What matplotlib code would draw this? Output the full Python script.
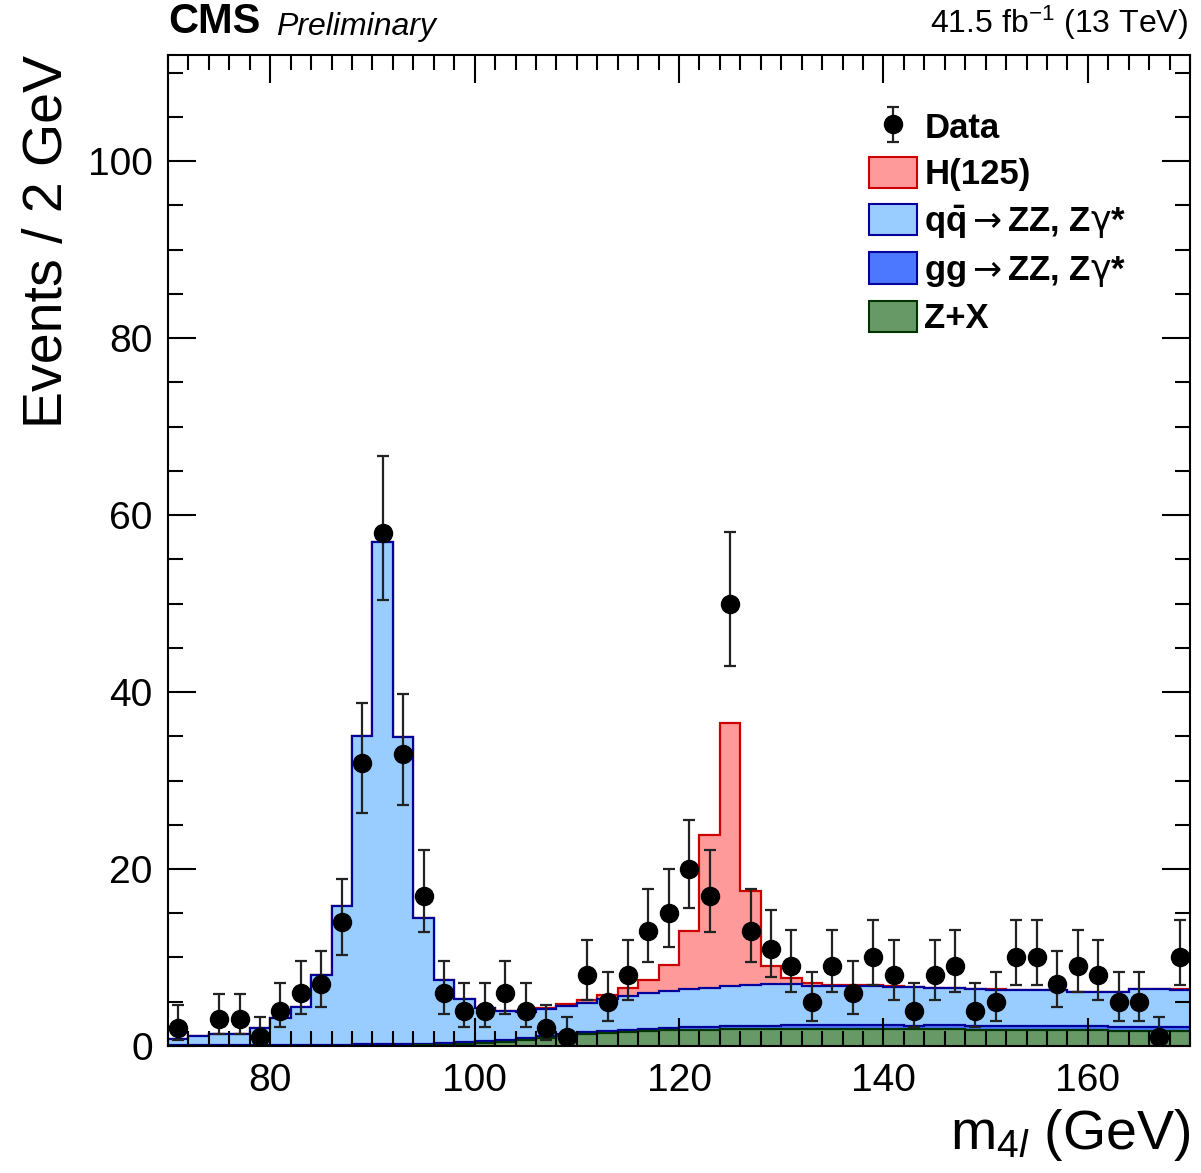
import numpy as np
import matplotlib
matplotlib.use("Agg")
import matplotlib.pyplot as plt
from matplotlib.patches import Patch
from matplotlib.ticker import MultipleLocator

plt.rcParams['font.family'] = ['Liberation Sans', 'DejaVu Sans']
plt.rcParams['mathtext.fontset'] = 'custom'
plt.rcParams['mathtext.rm'] = 'Liberation Sans'
plt.rcParams['mathtext.it'] = 'Liberation Sans:italic'
plt.rcParams['mathtext.bf'] = 'Liberation Sans:bold'
plt.rcParams['mathtext.sf'] = 'DejaVu Sans'

# ---------------- data ----------------
bin_edges = np.arange(70, 172, 2)          # 2 GeV bins, 70 - 170 GeV

data_counts = [2, 0, 3, 3, 1, 4, 6, 7, 14, 32,
               58, 33, 17, 6, 4, 4, 6, 4, 2, 1,
               8, 5, 8, 13, 15, 20, 17, 50, 13, 11,
               9, 5, 9, 6, 10, 8, 4, 8, 9, 4,
               5, 10, 10, 7, 9, 8, 5, 5, 1, 10]

zx = [0, 0, 0, 0, 0, 0, 0, 0, 0, 0,
      0, 0, 0.08, 0.15, 0.25, 0.35, 0.5, 0.65, 0.85, 1.1,
      1.3, 1.45, 1.55, 1.65, 1.75, 1.8, 1.85, 1.9, 1.9, 1.95,
      1.95, 1.95, 1.95, 1.95, 1.95, 1.95, 1.9, 1.9, 1.9, 1.85,
      1.85, 1.8, 1.8, 1.8, 1.75, 1.75, 1.7, 1.7, 1.7, 1.65]

gg_zz = [0.12, 0.12, 0.13, 0.13, 0.14, 0.14, 0.15, 0.15, 0.16, 0.17,
         0.17, 0.18, 0.18, 0.19, 0.2, 0.2, 0.21, 0.22, 0.23, 0.24,
         0.25, 0.27, 0.28, 0.3, 0.31, 0.32, 0.33, 0.34, 0.35, 0.36,
         0.37, 0.38, 0.38, 0.39, 0.4, 0.4, 0.41, 0.42, 0.42, 0.43,
         0.43, 0.44, 0.44, 0.45, 0.45, 0.46, 0.46, 0.47, 0.47, 0.48]

qq_zz = [0.63, 1.0, 1.17, 1.27, 1.86, 3.0, 4.3, 7.85, 15.64, 34.9,
         56.8, 34.7, 14.25, 7.15, 4.85, 3.75, 3.2, 3.0, 3.1, 3.15,
         3.35, 3.6, 3.85, 4.0, 4.15, 4.3, 4.4, 4.55, 4.65, 4.65,
         4.7, 4.5, 4.45, 4.45, 4.45, 4.35, 4.3, 4.2, 4.2, 4.15,
         4.1, 4.1, 4.1, 4.05, 3.9, 3.85, 3.95, 4.25, 4.25, 4.25]

higgs = [0, 0, 0, 0, 0, 0, 0, 0, 0, 0,
         0, 0, 0, 0, 0.02, 0.03, 0.05, 0.07, 0.1, 0.2,
         0.3, 0.45, 0.9, 1.5, 2.95, 6.6, 17.3, 29.7, 10.6, 2.05,
         0.7, 0.25, 0.15, 0.1, 0.08, 0.06, 0.06, 0.05, 0.05, 0.05,
         0.05, 0.04, 0.04, 0.04, 0.04, 0.03, 0.03, 0.03, 0.03, 0.03]

x_ticks_major = 20
x_ticks_minor = 2
y_ticks_major = 20
y_ticks_minor = 5

# ---------------- style ----------------
col_h_fill, col_h_line = '#ff9a9a', '#cc0000'
col_qq_fill, col_qq_line = '#99ccff', '#000099'
col_gg_fill, col_gg_line = '#4b78ff', '#000099'
col_zx_fill, col_zx_line = '#669966', '#003300'

fig = plt.figure(figsize=(12.01, 11.73), dpi=100)
ax = fig.add_axes([0.1399, 0.1083, 0.8510, 0.8448])

zx_a = np.array(zx, float)
gg_c = zx_a + np.array(gg_zz, float)
qq_c = gg_c + np.array(qq_zz, float)
h_c = qq_c + np.array(higgs, float)

layers = [(h_c, col_h_fill, col_h_line),
          (qq_c, col_qq_fill, col_qq_line),
          (gg_c, col_gg_fill, col_gg_line),
          (zx_a, col_zx_fill, col_zx_line)]
z = 1.0
for vals, fc, ec in layers:
    ax.stairs(vals, bin_edges, baseline=0, fill=True, facecolor=fc,
              edgecolor='none', zorder=z)
    ax.stairs(vals, bin_edges, baseline=None, color=ec, lw=1.6, zorder=z + 0.05)
    z += 0.1

# data with Poisson (Garwood, Wilson-Hilferty approx.) errors
n = np.array(data_counts, float)
centers = 0.5 * (bin_edges[:-1] + bin_edges[1:])
mask = n > 0
nm = n[mask]
lower = nm * (1 - 1 / (9 * nm) - 1 / (3 * np.sqrt(nm))) ** 3
upper = (nm + 1) * (1 - 1 / (9 * (nm + 1)) + 1 / (3 * np.sqrt(nm + 1))) ** 3
eb = ax.errorbar(centers[mask], nm, yerr=[nm - lower, upper - nm], fmt='o',
                 color='black', ecolor='#222222', ms=13, elinewidth=1.6,
                 capsize=4.5, capthick=1.6, zorder=5)

ax.set_xlim(70, 170)
ax.set_ylim(0, 112)
ax.xaxis.set_major_locator(MultipleLocator(x_ticks_major))
ax.xaxis.set_minor_locator(MultipleLocator(x_ticks_minor))
ax.yaxis.set_major_locator(MultipleLocator(y_ticks_major))
ax.yaxis.set_minor_locator(MultipleLocator(y_ticks_minor))
ax.set_axisbelow(False)
ax.tick_params(which='both', direction='in', top=True, right=True,
               width=1.5, color='black')
ax.tick_params(which='major', length=20)
ax.tick_params(which='minor', length=10.5)
ax.tick_params(axis='x', which='major', labelsize=28, pad=12)
ax.tick_params(axis='y', which='major', labelsize=28, pad=11)
for s in ax.spines.values():
    s.set_linewidth(1.5)

ax.set_ylabel('Events / 2 GeV', fontsize=40, loc='top')
ax.yaxis.set_label_coords(-0.092, 1.0)
ax.set_xlabel(r'm$_{4\mathit{l}}$ (GeV)', fontsize=40, loc='right')
ax.xaxis.set_label_coords(1.0, -0.062)

# header
ax.text(0.0, 1.013, 'CMS', transform=ax.transAxes, fontsize=30,
        fontweight='bold', ha='left', va='bottom')
ax.text(0.106, 1.013, 'Preliminary', transform=ax.transAxes, fontsize=23,
        fontstyle='italic', ha='left', va='bottom')
ax.text(0.998, 1.013, r'41.5 fb$^{-1}$ (13 TeV)', transform=ax.transAxes,
        fontsize=23, ha='right', va='bottom')

handles = [eb,
           Patch(facecolor=col_h_fill, edgecolor=col_h_line, lw=1.5),
           Patch(facecolor=col_qq_fill, edgecolor=col_qq_line, lw=1.5),
           Patch(facecolor=col_gg_fill, edgecolor=col_gg_line, lw=1.5),
           Patch(facecolor=col_zx_fill, edgecolor=col_zx_line, lw=1.5)]
labels = ['Data', 'H(125)',
          r'q$\mathbf{\bar{q}}\mathsf{\rightarrow}$ZZ, Z$\mathsf{\gamma}$*',
          r'gg$\mathsf{\rightarrow}$ZZ, Z$\mathsf{\gamma}$*', 'Z+X']
leg = ax.legend(handles, labels, loc='upper left', bbox_to_anchor=(0.672, 0.958),
                frameon=False, prop={'size': 25, 'weight': 'bold'},
                handlelength=1.4, handleheight=1.0, labelspacing=0.34,
                handletextpad=0.2, borderaxespad=0)

fig.savefig('out.png', dpi=100)
